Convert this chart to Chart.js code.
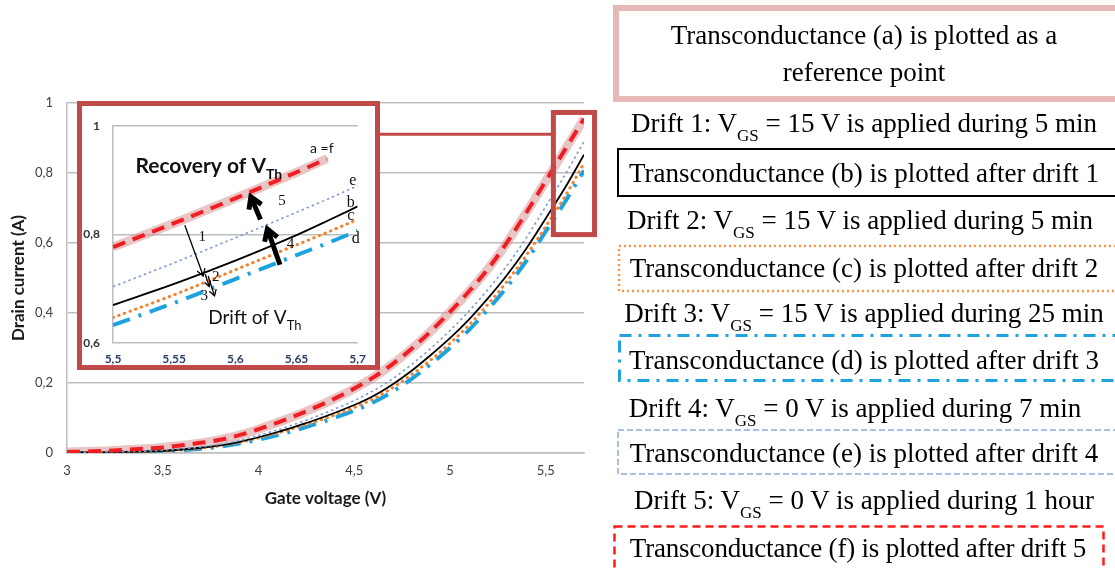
<!DOCTYPE html>
<html>
<head>
<meta charset="utf-8">
<script src="https://cdn.jsdelivr.net/npm/chart.js@4.4.1/dist/chart.umd.min.js"></script>
<style>
html, body { margin: 0; padding: 0; background: #fff; }
#stage { position: relative; width: 1115px; height: 570px; overflow: hidden; }
#mainChart { position: absolute; left: 0; top: 0; }
#insetBox { position: absolute; left: 77px; top: 101px; width: 293px; height: 259px; border: 5px solid #bf4a47; background: #fff; }
#insetChart { position: absolute; left: 0; top: 0; }
#frames { position: absolute; left: 0; top: 0; }
.note { position: absolute; left: 614px; width: 500px; text-align: center; font-family: "Liberation Serif", "Times New Roman", serif; font-size: 27px; line-height: 30px; color: #000; white-space: nowrap; }
.note sub { font-size: 17px; vertical-align: -9px; line-height: 0; }
</style>
</head>
<body>
<div id="stage">
  <canvas id="mainChart" width="610" height="570"></canvas>
  <div id="insetBox"><canvas id="insetChart" width="293" height="259"></canvas></div>

  <svg id="frames" width="1115" height="570">
    <rect x="616" y="8" width="510" height="91" fill="none" stroke="#e6b8b7" stroke-width="6"/>
    <rect x="618" y="149" width="500" height="47" fill="none" stroke="#000" stroke-width="2"/>
    <rect x="619" y="246" width="500" height="45" fill="none" stroke="#f79646" stroke-width="2.5" stroke-dasharray="2 3"/>
    <rect x="619.5" y="335.5" width="500" height="45" fill="none" stroke="#1fa3e0" stroke-width="3" stroke-dasharray="12 7 3 7"/>
    <rect x="618" y="430" width="500" height="44" fill="none" stroke="#8eaadb" stroke-width="1.5" stroke-dasharray="6 3"/>
    <rect x="614.5" y="526.5" width="489" height="45" fill="none" stroke="#ff1a1a" stroke-width="2.5" stroke-dasharray="8 5"/>
  </svg>

  <div class="note" style="top:20px">Transconductance (a) is plotted as a</div>
  <div class="note" style="top:57px">reference point</div>
  <div class="note" style="top:108px">Drift 1: V<sub>GS</sub> = 15 V is applied during 5 min</div>
  <div class="note" style="top:158px">Transconductance (b) is plotted after drift 1</div>
  <div class="note" style="top:205px;left:610px">Drift 2: V<sub>GS</sub> = 15 V is applied during 5 min</div>
  <div class="note" style="top:253px">Transconductance (c) is plotted after drift 2</div>
  <div class="note" style="top:298px">Drift 3: V<sub>GS</sub> = 15 V is applied during 25 min</div>
  <div class="note" style="top:345px">Transconductance (d) is plotted after drift 3</div>
  <div class="note" style="top:393px;left:605px">Drift 4: V<sub>GS</sub> = 0 V is applied during 7 min</div>
  <div class="note" style="top:438px">Transconductance (e) is plotted after drift 4</div>
  <div class="note" style="top:485px">Drift 5: V<sub>GS</sub> = 0 V is applied during 1 hour</div>
  <div class="note" style="top:533px;left:608px;letter-spacing:-0.2px">Transconductance (f) is plotted after drift 5</div>
</div>

<script>
// Gate voltage (V) for the full sweep
const gateV = [3.0, 3.1, 3.2, 3.3, 3.4, 3.5, 3.6, 3.7, 3.8, 3.9, 4.0, 4.1, 4.2, 4.3, 4.4,
               4.5, 4.6, 4.7, 4.8, 4.9, 5.0, 5.1, 5.2, 5.3, 5.4, 5.5, 5.6, 5.7];

// Drain current (A)
const curveA = [0.003, 0.004, 0.006, 0.009, 0.012, 0.016, 0.022, 0.029, 0.038, 0.051, 0.068, 0.087, 0.108, 0.131,
                0.156, 0.184, 0.216, 0.254, 0.298, 0.348, 0.403, 0.462, 0.527, 0.603, 0.688, 0.777, 0.866, 0.955];
const curveB = [0.001, 0.002, 0.002, 0.003, 0.004, 0.006, 0.010, 0.015, 0.022, 0.032, 0.045, 0.060, 0.077, 0.095,
                0.115, 0.137, 0.163, 0.196, 0.235, 0.280, 0.328, 0.382, 0.443, 0.510, 0.585, 0.670, 0.757, 0.852];
const curveC = [0.000, 0.001, 0.002, 0.003, 0.004, 0.006, 0.009, 0.014, 0.021, 0.030, 0.043, 0.057, 0.073, 0.090,
                0.109, 0.130, 0.155, 0.186, 0.224, 0.266, 0.313, 0.366, 0.426, 0.492, 0.566, 0.647, 0.733, 0.828];
const curveD = [0.000, 0.000, 0.001, 0.002, 0.003, 0.005, 0.008, 0.012, 0.018, 0.027, 0.038, 0.051, 0.066, 0.083,
                0.101, 0.121, 0.145, 0.175, 0.212, 0.254, 0.300, 0.352, 0.411, 0.476, 0.550, 0.633, 0.717, 0.807];
const curveE = [0.001, 0.002, 0.003, 0.004, 0.005, 0.008, 0.012, 0.017, 0.025, 0.036, 0.050, 0.066, 0.084, 0.104,
                0.126, 0.150, 0.178, 0.212, 0.253, 0.299, 0.350, 0.406, 0.468, 0.537, 0.616, 0.704, 0.794, 0.890];
const curveF = [0.003, 0.004, 0.006, 0.009, 0.012, 0.016, 0.022, 0.029, 0.038, 0.051, 0.068, 0.087, 0.108, 0.131,
                0.156, 0.184, 0.216, 0.254, 0.298, 0.348, 0.403, 0.462, 0.527, 0.603, 0.688, 0.777, 0.866, 0.955];

// Zoomed window 5.5 - 5.7 V
const zoomV = [5.5, 5.55, 5.6, 5.65, 5.675, 5.7];
const zoomA = [0.777, 0.821, 0.867, 0.915, 0.940, null];
const zoomB = [0.670, 0.709, 0.752, 0.799, 0.825, 0.852];
const zoomC = [0.647, 0.689, 0.735, 0.781, 0.804, 0.828];
const zoomD = [0.633, 0.674, 0.718, 0.762, 0.784, 0.807];
const zoomE = [0.704, 0.748, 0.794, 0.841, 0.865, 0.890];
const zoomF = [0.777, 0.821, 0.867, 0.915, 0.940, null];

// Zoom frame on the main chart (V range, I range) and connector level
const frameV = [5.54, 5.755];
const frameI = [0.624, 0.973];
const connectorI = 0.911;

// Inset labels, in inset data coordinates
const insetLabels = [
    {text: 'Recovery of V', sub: 'Th', v: 5.5183, i: 0.913, font: 'bold 21px Lato', subFont: 'bold 14px Lato', drop: 6, align: 'left'},
    {text: 'Drift of V', sub: 'Th', v: 5.5778, i: 0.635, font: '19px Lato', subFont: '13px Lato', drop: 6, align: 'left'},
    {text: 'a =f', v: 5.6611, i: 0.951, font: '14px Lato', align: 'left'},
    {text: 'e', v: 5.696, i: 0.899, font: '16px "Liberation Serif"', align: 'center', mid: true},
    {text: 'b', v: 5.6944, i: 0.859, font: '16px "Liberation Serif"', align: 'center', mid: true},
    {text: 'c', v: 5.6944, i: 0.835, font: '16px "Liberation Serif"', align: 'center', mid: true},
    {text: 'd', v: 5.6984, i: 0.793, font: '16px "Liberation Serif"', align: 'center', mid: true},
    {text: '1', v: 5.573, i: 0.795, font: '15px "Liberation Serif"', align: 'center', mid: true},
    {text: '2', v: 5.5841, i: 0.722, font: '15px "Liberation Serif"', align: 'center', mid: true},
    {text: '3', v: 5.5746, i: 0.687, font: '15px "Liberation Serif"', align: 'center', mid: true},
    {text: '4', v: 5.6452, i: 0.783, font: '15px "Liberation Serif"', align: 'center', mid: true},
    {text: '5', v: 5.6381, i: 0.861, font: '15px "Liberation Serif"', align: 'center', mid: true}
];

// Arrows: [v0, i0, v1, i1, lineWidth, headLength]
const insetArrows = [
    [5.5587, 0.8174, 5.5738, 0.7235, 1.3, 8],
    [5.5754, 0.7270, 5.5786, 0.7043, 1.3, 6],
    [5.5778, 0.7235, 5.5830, 0.6870, 1.3, 7],
    [5.6365, 0.7443, 5.6262, 0.8104, 5, 13],
    [5.6206, 0.8278, 5.6127, 0.8696, 5, 13]
];

const lineStyles = {
    f: {borderColor: '#f01e23', borderWidth: 4, borderDash: [13, 8]},
    e: {borderColor: '#7d9bd0', borderWidth: 1.6, borderDash: [2.5, 3]},
    b: {borderColor: '#000000', borderWidth: 1.8, borderDash: []},
    c: {borderColor: '#f5822a', borderWidth: 3, borderDash: [0.5, 5.5], borderCapStyle: 'round'},
    d: {borderColor: '#1ca3df', borderWidth: 4, borderDash: [18, 9, 3, 9]},
    a: {borderColor: 'rgba(214,140,140,0.5)', borderWidth: 9, borderDash: []}
};

Chart.defaults.font.family = 'Lato, "Open Sans", sans-serif';
Chart.defaults.color = '#404040';

function toPoints(xs, ys) {
    return xs.map((v, i) => ({x: v, y: ys[i]}));
}

function commaLabel(v) {
    return String(Math.round(v * 100) / 100).replace('.', ',');
}

function makeDatasets(xs, series) {
    return ['f', 'e', 'b', 'c', 'd', 'a'].map((k, idx) => ({
        label: k,
        data: toPoints(xs, series[k]),
        order: idx,
        pointRadius: 0,
        fill: false,
        spanGaps: false,
        cubicInterpolationMode: 'monotone',
        ...lineStyles[k]
    }));
}

function drawArrow(ctx, x0, y0, x1, y1, w, head) {
    const ang = Math.atan2(y1 - y0, x1 - x0);
    ctx.lineWidth = w;
    ctx.strokeStyle = '#000';
    ctx.lineJoin = 'miter';
    ctx.lineCap = 'butt';
    ctx.beginPath();
    ctx.moveTo(x0, y0);
    ctx.lineTo(x1 - Math.cos(ang) * w * 0.6, y1 - Math.sin(ang) * w * 0.6);
    ctx.stroke();
    ctx.beginPath();
    ctx.moveTo(x1 - head * Math.cos(ang - 0.55), y1 - head * Math.sin(ang - 0.55));
    ctx.lineTo(x1, y1);
    ctx.lineTo(x1 - head * Math.cos(ang + 0.55), y1 - head * Math.sin(ang + 0.55));
    ctx.stroke();
}

// Zoom frame + connector on main chart
const zoomFrame = {
    id: 'zoomFrame',
    afterDraw(chart) {
        const {ctx, scales: {x, y}} = chart;
        const l = x.getPixelForValue(frameV[0]);
        const r = x.getPixelForValue(frameV[1]);
        const t = y.getPixelForValue(frameI[1]);
        const b = y.getPixelForValue(frameI[0]);
        const box = document.getElementById('insetBox');
        const cy = y.getPixelForValue(connectorI);
        ctx.save();
        ctx.strokeStyle = '#bf4a47';
        ctx.lineWidth = 3;
        ctx.beginPath();
        ctx.moveTo(box.offsetLeft + box.offsetWidth, cy);
        ctx.lineTo(l, cy);
        ctx.stroke();
        ctx.lineWidth = 5;
        ctx.strokeRect(l, t, r - l, b - t);
        ctx.restore();
    }
};

// Texts and arrows inside the inset
const insetDecor = {
    id: 'insetDecor',
    afterDatasetsDraw(chart) {
        const {ctx, scales: {x, y}} = chart;
        ctx.save();
        ctx.fillStyle = '#111';
        insetLabels.forEach(l => {
            const px = x.getPixelForValue(l.v);
            const py = y.getPixelForValue(l.i);
            ctx.font = l.font;
            ctx.textAlign = l.align;
            ctx.textBaseline = l.mid ? 'middle' : 'alphabetic';
            ctx.fillText(l.text, px, py);
            if (l.sub) {
                const w = ctx.measureText(l.text).width;
                ctx.font = l.subFont;
                ctx.textAlign = 'left';
                ctx.fillText(l.sub, px + w, py + l.drop);
            }
        });
        insetArrows.forEach(a => {
            drawArrow(ctx, x.getPixelForValue(a[0]), y.getPixelForValue(a[1]),
                x.getPixelForValue(a[2]), y.getPixelForValue(a[3]), a[4], a[5]);
        });
        ctx.restore();
    }
};

new Chart(document.getElementById('mainChart'), {
    type: 'line',
    data: {
        datasets: makeDatasets(gateV, {a: curveA, b: curveB, c: curveC, d: curveD, e: curveE, f: curveF})
    },
    options: {
        responsive: false,
        animation: false,
        devicePixelRatio: 1,
        layout: {padding: {left: 0, top: 103, right: 26, bottom: 59}},
        plugins: {legend: {display: false}, tooltip: {enabled: false}},
        scales: {
            x: {
                type: 'linear', min: 3, max: 5.7,
                afterFit: s => { s.height = 58; },
                grid: {display: false, drawTicks: false},
                border: {display: true, color: '#bdbdbd', width: 1.5},
                ticks: {stepSize: 0.5, includeBounds: false, padding: 10, maxRotation: 0,
                        font: {size: 13}, color: '#404040', callback: commaLabel},
                title: {display: true, text: 'Gate voltage (V)', color: '#1a1a1a',
                        font: {family: 'Lato', size: 17, weight: 700}, padding: {top: 0, bottom: 2}}
            },
            y: {
                type: 'linear', min: 0, max: 1,
                afterFit: s => { s.width = 67; },
                grid: {color: '#bdbdbd', lineWidth: 1.5, drawTicks: false},
                border: {display: true, color: '#bdbdbd', width: 1.5},
                ticks: {stepSize: 0.2, padding: 14, font: {size: 13}, color: '#404040', callback: commaLabel},
                title: {display: true, text: 'Drain current (A)', color: '#1a1a1a',
                        font: {family: 'Lato', size: 17, weight: 700}, padding: {top: 8, bottom: 0}}
            }
        }
    },
    plugins: [zoomFrame]
});

new Chart(document.getElementById('insetChart'), {
    type: 'line',
    data: {
        datasets: makeDatasets(zoomV, {a: zoomA, b: zoomB, c: zoomC, d: zoomD, e: zoomE, f: zoomF})
    },
    options: {
        responsive: false,
        animation: false,
        devicePixelRatio: 1,
        layout: {padding: {left: 0, top: 7, right: 10, bottom: 0}},
        plugins: {legend: {display: false}, tooltip: {enabled: false}},
        scales: {
            x: {
                type: 'linear', min: 5.5, max: 5.7,
                afterFit: s => { s.height = 22; },
                grid: {display: false, drawTicks: false},
                border: {display: false},
                ticks: {stepSize: 0.05, padding: 9, maxRotation: 0,
                        font: {size: 12, weight: 700}, color: '#2a3f66', callback: commaLabel}
            },
            y: {
                type: 'linear', min: 0.6, max: 1,
                afterFit: s => { s.width = 31; },
                grid: {color: '#bdbdbd', lineWidth: 1.5, drawTicks: false},
                border: {display: true, color: '#bdbdbd', width: 1.5},
                ticks: {stepSize: 0.2, padding: 13, font: {size: 12, weight: 700}, color: '#333', callback: commaLabel}
            }
        }
    },
    plugins: [insetDecor]
});
</script>
</body>
</html>
